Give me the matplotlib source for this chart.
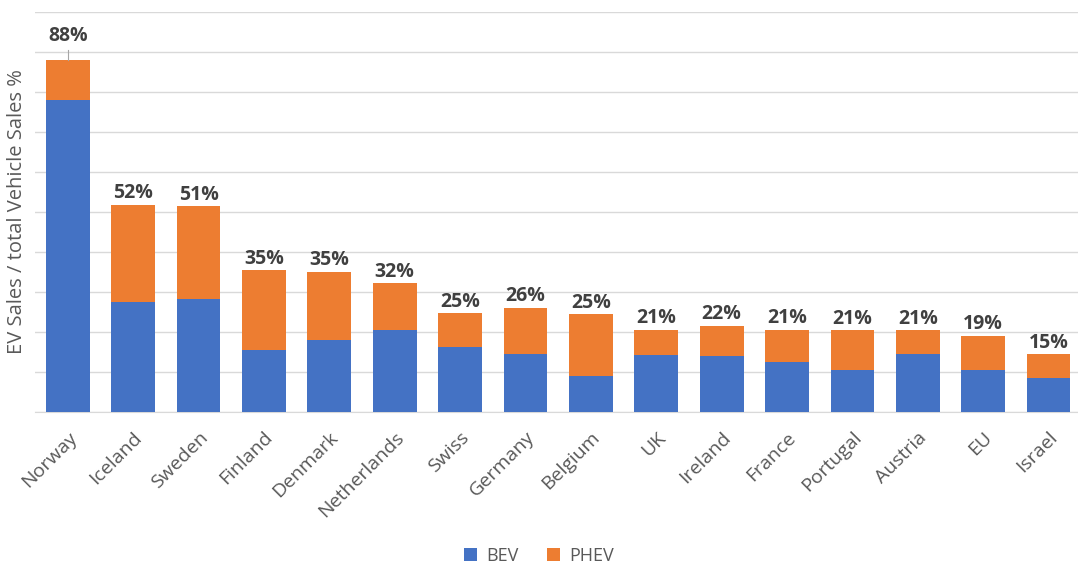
import numpy as np
import matplotlib
matplotlib.use("Agg")
import matplotlib.pyplot as plt

plt.rcParams["font.family"] = ["Open Sans", "DejaVu Sans"]

COUNTRIES = ["Norway", "Iceland", "Sweden", "Finland", "Denmark", "Netherlands",
             "Swiss", "Germany", "Belgium", "UK", "Ireland", "France",
             "Portugal", "Austria", "EU", "Israel"]
BEV = [77.8, 27.5, 28.1, 15.4, 17.8, 20.4, 16.1, 14.3, 9.0, 14.2, 14.0, 12.5,
       10.4, 14.4, 10.3, 8.3]
TOTAL = [87.9, 51.7, 51.3, 35.3, 35.0, 32.1, 24.6, 26.0, 24.3, 20.4, 21.4, 20.4,
         20.3, 20.3, 18.9, 14.3]
PHEV = [t - b for t, b in zip(TOTAL, BEV)]
LABELS = ["88%", "52%", "51%", "35%", "35%", "32%", "25%", "26%", "25%", "21%",
          "22%", "21%", "21%", "21%", "19%", "15%"]

C_BEV = "#4472C4"
C_PHEV = "#ED7D31"
GRID = "#D9D9D9"
TXT = "#595959"

fig = plt.figure(figsize=(10.78, 5.67), dpi=100)
ax = fig.add_axes([0.0325, 0.2739, 0.9675, 0.7055])

x = np.arange(len(COUNTRIES))
w = 0.67
ax.bar(x, BEV, w, color=C_BEV, label="BEV", zorder=3)
ax.bar(x, PHEV, w, bottom=BEV, color=C_PHEV, label="PHEV", zorder=3)

# value labels on top of the stacks
for i, (t, lab) in enumerate(zip(TOTAL, LABELS)):
    if i == 0:
        ax.plot([i, i], [t, t + 2.6], color="#A6A6A6", lw=0.8, zorder=4)
        ax.text(i, t + 3.6, lab, ha="center", va="bottom", fontsize=14,
                fontweight="bold", color="#404040")
    else:
        ax.text(i, t + 0.4, lab, ha="center", va="bottom", fontsize=14,
                fontweight="bold", color="#404040")

ax.set_xlim(-0.5, 15.45)
ax.set_ylim(0, 100)
ax.set_yticks(np.arange(0, 101, 10))
ax.set_yticklabels([])
ax.tick_params(axis="y", length=0)
ax.grid(axis="y", color=GRID, lw=1, zorder=0)

ax.set_xticks(x)
ax.set_xticklabels(COUNTRIES, rotation=45, ha="right", rotation_mode="anchor",
                   fontsize=14, color=TXT)
ax.tick_params(axis="x", length=0, pad=12)

for s in ["top", "right", "left"]:
    ax.spines[s].set_visible(False)
ax.spines["bottom"].set_color(GRID)

ax.set_ylabel("EV Sales / total Vehicle Sales %", fontsize=14.5, color=TXT,
              labelpad=2)

fig.legend(loc="lower center", bbox_to_anchor=(0.5, -0.025), ncol=2,
           frameon=False, fontsize=13, handlelength=0.7, handleheight=0.7,
           columnspacing=1.6, handletextpad=0.5, labelcolor=TXT)

fig.savefig("out.png", dpi=100)
